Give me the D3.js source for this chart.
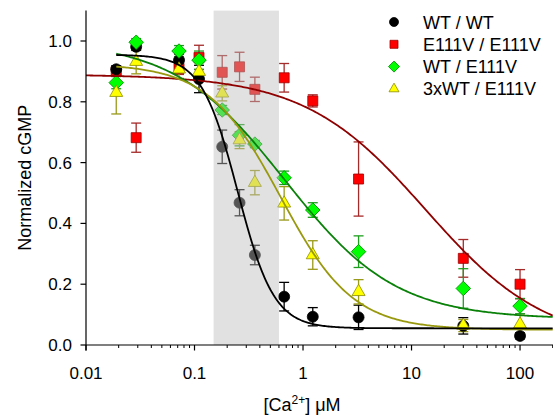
<!DOCTYPE html>
<html>
<head>
<meta charset="utf-8">
<script src="https://cdn.jsdelivr.net/npm/d3@7"></script>
<style>
  body { margin: 0; background: #fff; }
  text { font-family: "Liberation Sans", Arial, sans-serif; fill: #000; }
</style>
</head>
<body>
<div id="chart"></div>
<script>
// Ca2+ concentrations (uM)
const conc = [0.019, 0.029, 0.072, 0.11, 0.18, 0.26, 0.36, 0.67, 1.23, 3.25, 30, 100];

const seriesNames = ["WT / WT", "E111V / E111V", "WT / E111V", "3xWT / E111V"];

// normalized cGMP, mean and SEM
const wtwt      = [0.907, 0.981, 0.937, 0.875, 0.652, 0.468, 0.296, 0.159, 0.093, 0.091, 0.063, 0.030];
const wtwtErr   = [0.012, 0.012, 0.020, 0.045, 0.055, 0.043, 0.032, 0.047, 0.030, 0.040, 0.027, 0.010];
const e111v     = [0.900, 0.682, 0.910, 0.946, 0.897, 0.915, 0.841, 0.879, 0.803, 0.546, 0.285, 0.200];
const e111vErr  = [0.012, 0.048, 0.020, 0.040, 0.055, 0.048, 0.040, 0.047, 0.020, 0.122, 0.062, 0.048];
const wte111v   = [0.863, 0.996, 0.967, 0.937, 0.773, 0.690, 0.661, 0.550, 0.444, 0.307, 0.186, 0.128];
const wte111vErr= [0.020, 0.012, 0.018, 0.030, 0.015, 0.035, 0.012, 0.022, 0.024, 0.052, 0.065, 0.025];
const x3wt      = [0.830, 0.932, 0.907, 0.899, 0.828, 0.674, 0.534, 0.466, 0.296, 0.175, 0.064, 0.068];
const x3wtErr   = [0.070, 0.040, 0.030, 0.030, 0.025, 0.028, 0.040, 0.055, 0.047, 0.040, 0.020, 0.030];

// Hill fit parameters per series
const fitTop    = [0.955, 0.890, 1.000, 0.925];
const fitBottom = [0.055, 0.000, 0.085, 0.050];
const fitIC50   = [0.250, 13.5, 0.680, 0.620];
const fitHill   = [2.6, 0.78, 0.85, 1.3];
const fitStart  = [0.019, 0.01, 0.019, 0.019];

const band = [0.15, 0.6];
const xTicks = [0.01, 0.1, 1, 10, 100];
const yTicks = [0, 0.2, 0.4, 0.6, 0.8, 1.0];

const W = 553, H = 418;
const svg = d3.select('#chart').append('svg')
  .attr('width', W).attr('height', H);

const x = d3.scaleLog().domain([0.01, 200]).range([86, 552.7]);
const y = d3.scaleLinear().domain([0, 1.1]).range([345, 10.6]);

const styles = [
  { fill: '#000000', stroke: '#000000', line: '#000000', err: '#000000', sym: 'circle' },
  { fill: '#ff0000', stroke: '#a00000', line: '#8f0000', err: '#a52a2a', sym: 'square' },
  { fill: '#00ff00', stroke: '#008800', line: '#0a820a', err: '#1e9e1e', sym: 'diamond' },
  { fill: '#ffff00', stroke: '#8c8c00', line: '#99990f', err: '#9a9a1a', sym: 'triangle' }
];
const means = [wtwt, e111v, wte111v, x3wt];
const errs = [wtwtErr, e111vErr, wte111vErr, x3wtErr];

function symPath(kind, s) {
  if (kind === 'circle') return d3.symbol(d3.symbolCircle, Math.PI * s * s / 4)();
  if (kind === 'square') return d3.symbol(d3.symbolSquare, s * s)();
  if (kind === 'diamond') return d3.symbol(d3.symbolSquare, s * s / 2)();
  return d3.symbol(d3.symbolTriangle, Math.sqrt(3) / 4 * s * s)();
}
function symSize(kind) {
  return { circle: 11, square: 10, diamond: 14.5, triangle: 13 }[kind];
}

// drawing order: red, black, green, yellow
const order = [1, 0, 2, 3];

const errG = svg.append('g');
order.forEach(si => {
  const st = styles[si];
  conc.forEach((c, i) => {
    const m = means[si][i], e = errs[si][i];
    const cx = x(c);
    const g = errG.append('g').attr('stroke', st.err).attr('stroke-width', 1.3);
    g.append('line').attr('x1', cx).attr('x2', cx).attr('y1', y(m + e)).attr('y2', y(m - e));
    g.append('line').attr('x1', cx - 5).attr('x2', cx + 5).attr('y1', y(m + e)).attr('y2', y(m + e));
    g.append('line').attr('x1', cx - 5).attr('x2', cx + 5).attr('y1', y(m - e)).attr('y2', y(m - e));
  });
});

const ptG = svg.append('g');
order.forEach(si => {
  const st = styles[si];
  ptG.selectAll(null)
    .data(conc.map((c, i) => [c, means[si][i]]))
    .enter()
    .append('path')
    .attr('d', symPath(st.sym, symSize(st.sym)))
    .attr('transform', d => `translate(${x(d[0])},${y(d[1])})` + (st.sym === 'diamond' ? ' rotate(45)' : ''))
    .attr('fill', st.fill)
    .attr('stroke', st.stroke)
    .attr('stroke-width', 0.8);
});

// shaded Ca2+ range, drawn over the points
svg.append('rect')
  .attr('x', x(band[0])).attr('y', y(1.1))
  .attr('width', x(band[1]) - x(band[0]))
  .attr('height', y(0) - y(1.1))
  .attr('fill', '#bdbdbd').attr('fill-opacity', 0.45);

// fitted curves
const hill = (xv, k) => fitBottom[k] + (fitTop[k] - fitBottom[k]) / (1 + Math.pow(xv / fitIC50[k], fitHill[k]));
const line = d3.line().x(d => x(d[0])).y(d => y(d[1]));
[1, 2, 3, 0].forEach(k => {
  const pts = d3.range(0, 301).map(j => {
    const lx = Math.log10(fitStart[k]) + (Math.log10(200) - Math.log10(fitStart[k])) * j / 300;
    const xv = Math.pow(10, lx);
    return [xv, hill(xv, k)];
  });
  svg.append('path').attr('d', line(pts))
    .attr('fill', 'none').attr('stroke', styles[k].line).attr('stroke-width', 1.8);
});

// axes
const xAxis = svg.append('g').attr('transform', `translate(0,${y(0)})`);
xAxis.append('line').attr('x1', 86).attr('x2', W).attr('stroke', '#000').attr('stroke-width', 1.2);
const minor = [];
for (let d = -2; d <= 2; d++) for (let m = 2; m <= 9; m++) {
  const v = m * Math.pow(10, d);
  if (v <= 200) minor.push(v);
}
xAxis.selectAll('.mn').data(minor).enter().append('line')
  .attr('x1', d => x(d)).attr('x2', d => x(d)).attr('y1', 0).attr('y2', 3)
  .attr('stroke', '#000').attr('stroke-width', 1);
xAxis.selectAll('.mj').data(xTicks).enter().append('line')
  .attr('x1', d => x(d)).attr('x2', d => x(d)).attr('y1', 0).attr('y2', 5.5)
  .attr('stroke', '#000').attr('stroke-width', 1.2);
xAxis.selectAll('.lb').data(xTicks).enter().append('text')
  .attr('x', d => x(d)).attr('y', 34)
  .attr('text-anchor', 'middle').attr('font-size', 17)
  .text(d => d >= 1 ? String(d) : d3.format('.2~f')(d));

const yAxis = svg.append('g');
yAxis.append('line').attr('x1', 86).attr('x2', 86).attr('y1', y(1.1)).attr('y2', y(0) + 5.5)
  .attr('stroke', '#000').attr('stroke-width', 1.2);
yAxis.selectAll('.mj').data(yTicks).enter().append('line')
  .attr('x1', 80.5).attr('x2', 86).attr('y1', d => y(d)).attr('y2', d => y(d))
  .attr('stroke', '#000').attr('stroke-width', 1.2);
yAxis.selectAll('.lb').data(yTicks).enter().append('text')
  .attr('x', 72).attr('y', d => y(d) + 6)
  .attr('text-anchor', 'end').attr('font-size', 17)
  .text(d => d3.format('.1f')(d));

svg.append('text')
  .attr('transform', `translate(31,${(y(0) + y(1.1)) / 2}) rotate(-90)`)
  .attr('text-anchor', 'middle').attr('font-size', 18)
  .text('Normalized cGMP');

const xt = svg.append('text')
  .attr('x', 302).attr('y', 411)
  .attr('text-anchor', 'middle').attr('font-size', 18);
xt.append('tspan').text('[Ca');
xt.append('tspan').attr('font-size', 12).attr('dy', -7).text('2+');
xt.append('tspan').attr('dy', 7).text('] \u03bcM');

// legend
const leg = svg.append('g');
seriesNames.forEach((name, i) => {
  const st = styles[i];
  const ly = 22 + i * 22.3;
  const ls = { circle: 9, square: 8, diamond: 11, triangle: 10 }[st.sym];
  leg.append('path')
    .attr('d', symPath(st.sym, ls))
    .attr('transform', `translate(394,${ly})` + (st.sym === 'diamond' ? ' rotate(45)' : ''))
    .attr('fill', st.fill).attr('stroke', st.stroke).attr('stroke-width', 0.8);
  leg.append('text').attr('x', 423).attr('y', ly + 6.5)
    .attr('font-size', 18).text(name);
});
</script>
</body>
</html>
